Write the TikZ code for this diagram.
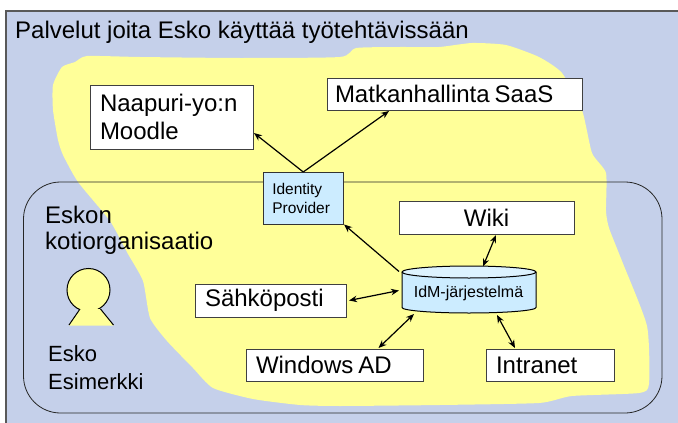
\documentclass[tikz,border=0pt]{standalone}
\usepackage{fontspec}
\setmainfont{Liberation Sans}
\usetikzlibrary{arrows.meta,calc}
\definecolor{bgblue}{HTML}{C5D0EA}
\definecolor{blobyellow}{HTML}{FFFF99}
\definecolor{paleblue}{HTML}{CCECFF}
\definecolor{paletop}{HTML}{DDF3FF}
\tikzset{
  x=1pt,y=-1pt,
  bigtext/.style={font=\fontsize{24}{27.5}\selectfont},
  plain/.style={bigtext,inner sep=0pt,align=left,text=black},
  smalltext/.style={font=\fontsize{22}{27}\selectfont,inner sep=0pt,align=left,text=black},
  svcbox/.style={draw=black!75,line width=1pt,fill=white,bigtext,inner sep=0pt,outer sep=0pt,align=left},
  conn/.style={line width=1.2pt,black,-{Stealth[length=8pt,width=6.5pt]}},
  biconn/.style={line width=1.2pt,black,{Stealth[length=8pt,width=6.5pt]}-{Stealth[length=8pt,width=6.5pt]}}
}
\begin{document}
\begin{tikzpicture}
\useasboundingbox (0,0) rectangle (678,423);
\fill[white] (0,0) rectangle (678,423);
\fill[bgblue] (6,11) rectangle (678,423);
\draw[black!65,line width=1.4pt] (6,423) -- (6,11) -- (678,11);
\fill[blobyellow] plot[smooth cycle,tension=0.35] coordinates {
 (87,56) (140,57) (240,58) (340,57) (356,48) (400,47) (439,47) (472,43) (506,45) (539,57) (562,73) (582,110)
 (592,153) (606,173) (606,211) (609,228) (622,261) (647,326) (649,384) (639,393) (572,396) (539,403)
 (440,405) (340,406) (300,405) (253,399) (213,388) (193,368) (167,341) (150,318) (143,281) (128,254)
 (110,221) (78,182) (63,155) (58,140) (53,110) (53,85) (62,67) (75,62)};
\draw[black!85,line width=0.8pt,rounded corners=37pt] (23.5,182) rectangle (662,413);
\node[plain,anchor=base west] (title) at (15,38) {Palvelut joita Esko käyttää työtehtävissään};
\node[svcbox,minimum width=163pt,minimum height=64pt,text width=143pt] (moodle) at (171.5,117) {Naapuri-yo:n\\Moodle};
\node[svcbox,minimum width=255pt,minimum height=32pt,text width=239pt] (matka) at (454.5,94) {Matkanhallinta\hspace{-3pt} SaaS};
\node[draw=black!80,line width=0.8pt,fill=paleblue,font=\fontsize{15.5}{19}\selectfont,inner sep=0pt,outer sep=0pt,minimum width=80.5pt,minimum height=52pt,text width=62pt,align=left] (ip) at (303.25,198) {Identity\\Provider};
\node[svcbox,minimum width=175pt,minimum height=32.5pt,text width=175pt,align=center] (wiki) at (486.5,217.75) {Wiki};
\node[svcbox,minimum width=151pt,minimum height=33pt,text width=131pt] (mail) at (270.5,300.5) {Sähköposti};
\node[svcbox,minimum width=177pt,minimum height=32pt,text width=157pt] (ad) at (334.5,365) {Windows\hspace{-3pt} AD};
\node[svcbox,minimum width=128pt,minimum height=32pt,text width=108pt] (intra) at (550,365) {Intranet};
% cylinder
\path[fill=paleblue,draw=black,line width=1pt] (402,272) -- (402,307.5) arc[start angle=180,end angle=360,x radius=67pt,y radius=5.5pt] -- (536,272);
\path[fill=paletop,draw=black,line width=1pt] (469,272) ellipse[x radius=67pt,y radius=6pt];
\node[font=\fontsize{16}{19}\selectfont,inner sep=0pt,minimum width=134pt,minimum height=47pt] (idm) at (469,289.5) {};
\node[font=\fontsize{16}{19}\selectfont,inner sep=0pt] (idmtext) at (468.5,293) {IdM-järjestelmä};
\node[plain,anchor=base west] (org1) at (45,223) {Eskon};
\node[plain,anchor=base west] (org2) at (45,249) {kotiorganisaatio};
\node[smalltext,anchor=base west] (esko1) at (48,361) {Esko};
\node[smalltext,anchor=base west] (esko2) at (48,389) {Esimerkki};
\node[draw=black,line width=1pt,fill=blobyellow,circle,minimum size=43pt,inner sep=0pt,outer sep=0pt] (head) at (88.5,290) {};
\fill[blobyellow] ($(head.center)+(-8.5,19)$) -- ($(head.center)+(-19.5,35.5)$) -- ($(head.center)+(25,35.5)$) -- ($(head.center)+(12,19)$) -- cycle;
\draw[line width=1pt] ($(head.center)+(-8.5,19)$) -- ($(head.center)+(-19.5,35)$);
\draw[line width=1pt] ($(head.center)+(12,19)$) -- ($(head.center)+(25,35)$);
\draw[conn] (ip.north) -- ($(moodle.east)+(1,16)$);
\draw[conn] (ip.north) -- ($(matka.south west)+(62,1)$);
\draw[conn] ($(idm.center)+(-70,-18)$) -- ($(ip.south east)+(0.5,0.5)$);
\draw[biconn] ($(wiki.south)+(9.5,1)$) -- ($(idm.center)+(14,-23)$);
\draw[biconn] ($(mail.east)+(3,0)$) -- ($(idm.center)+(-70,1)$);
\draw[biconn] ($(ad.north)+(44,-1)$) -- ($(idm.center)+(-55,24.5)$);
\draw[biconn] ($(intra.north)+(-35,-1)$) -- ($(idm.center)+(28,25.5)$);
\end{tikzpicture}
\end{document}
